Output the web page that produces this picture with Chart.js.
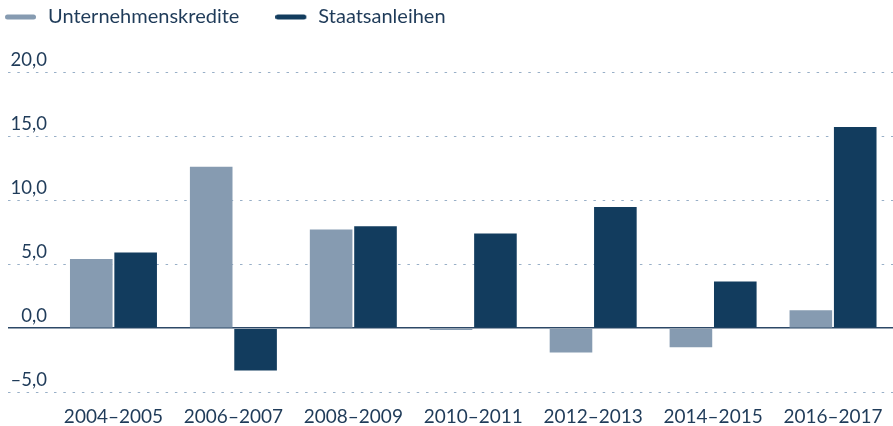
<!DOCTYPE html>
<html lang="de">
<head>
<meta charset="utf-8">
<title>Unternehmenskredite und Staatsanleihen</title>
<script src="https://cdn.jsdelivr.net/npm/chart.js@4/dist/chart.umd.min.js"></script>
<style>
    html, body { margin: 0; padding: 0; background: #fff; }
    #chart { display: block; }
</style>
</head>
<body>
<canvas id="chart" width="893" height="426"></canvas>
<script>
// Daten
const periods = ['2004–2005', '2006–2007', '2008–2009', '2010–2011', '2012–2013', '2014–2015', '2016–2017'];
const unternehmenskredite = [5.4, 12.6, 7.7, -0.15, -1.9, -1.5, 1.4];
const staatsanleihen = [5.9, -3.3, 7.95, 7.4, 9.45, 3.65, 15.7];
const yMin = -5;
const yMax = 20;
const yStep = 5;

const textColor = '#1f3b59';
const gridColor = '#98afc7';
const zeroColor = '#2c4867';
const colors = ['#869bb1', '#123c5e'];

function formatDe(v) {
    return v.toFixed(1).replace('.', ',').replace('-', '–');
}

// legend marker: rounded line, rest of the box left empty
function legendMarker(color) {
    const c = document.createElement('canvas');
    c.width = 33;
    c.height = 8;
    const g = c.getContext('2d');
    g.strokeStyle = color;
    g.lineWidth = 5;
    g.lineCap = 'round';
    g.beginPath();
    g.moveTo(2.5, 4);
    g.lineTo(28.5, 4);
    g.stroke();
    return c;
}

// extra room between legend and plot
const legendSpacer = {
    id: 'legendSpacer',
    afterInit(chart) {
        const fit = chart.legend.fit;
        chart.legend.fit = function () {
            fit.call(this);
            this.height += 35;
        };
    }
};

const ctx = document.getElementById('chart').getContext('2d');
new Chart(ctx, {
    type: 'bar',
    data: {
        labels: periods,
        datasets: [
            {
                label: 'Unternehmenskredite',
                data: unternehmenskredite,
                backgroundColor: colors[0],
                borderWidth: 0,
                categoryPercentage: 0.74,
                barPercentage: 0.96
            },
            {
                label: 'Staatsanleihen',
                data: staatsanleihen,
                backgroundColor: colors[1],
                borderWidth: 0,
                categoryPercentage: 0.74,
                barPercentage: 0.96
            }
        ]
    },
    plugins: [legendSpacer],
    options: {
        responsive: false,
        animation: false,
        layout: { padding: { left: -31, top: -29, right: 0, bottom: -15 } },
        scales: {
            x: {
                grid: { display: false, drawTicks: false },
                border: { display: false },
                ticks: { color: textColor, padding: 13, font: { family: 'Lato', size: 19 } },
                afterFit: scale => { scale.paddingLeft = 0; scale.paddingRight = 0; }
            },
            y: {
                min: yMin,
                max: yMax,
                afterFit: scale => { scale.width = 84.5; },
                ticks: {
                    stepSize: yStep,
                    color: textColor,
                    padding: -39,
                    labelOffset: -12,
                    font: { family: 'Lato', size: 18.5 },
                    callback: v => formatDe(v)
                },
                grid: {
                    tickLength: 45.5,
                    color: c => c.tick && c.tick.value === 0 ? zeroColor : gridColor,
                    lineWidth: c => c.tick && c.tick.value === 0 ? 1.5 : 1,
                    tickBorderDash: c => c.tick && c.tick.value === 0 ? [] : [2.5, 6.8]
                },
                border: {
                    display: false,
                    dash: c => c.tick && c.tick.value === 0 ? [] : [2.5, 6.8]
                }
            }
        },
        plugins: {
            legend: {
                position: 'top',
                align: 'start',
                labels: {
                    color: textColor,
                    padding: 36,
                    usePointStyle: true,
                    pointStyleWidth: 33,
                    font: { family: 'Lato', size: 20 },
                    generateLabels: chart => chart.data.datasets.map((ds, i) => ({
                        text: ds.label,
                        fillStyle: ds.backgroundColor,
                        strokeStyle: ds.backgroundColor,
                        lineWidth: 0,
                        pointStyle: legendMarker(ds.backgroundColor),
                        fontColor: textColor,
                        hidden: false,
                        datasetIndex: i
                    }))
                }
            },
            tooltip: { enabled: false }
        }
    }
});
</script>
</body>
</html>
